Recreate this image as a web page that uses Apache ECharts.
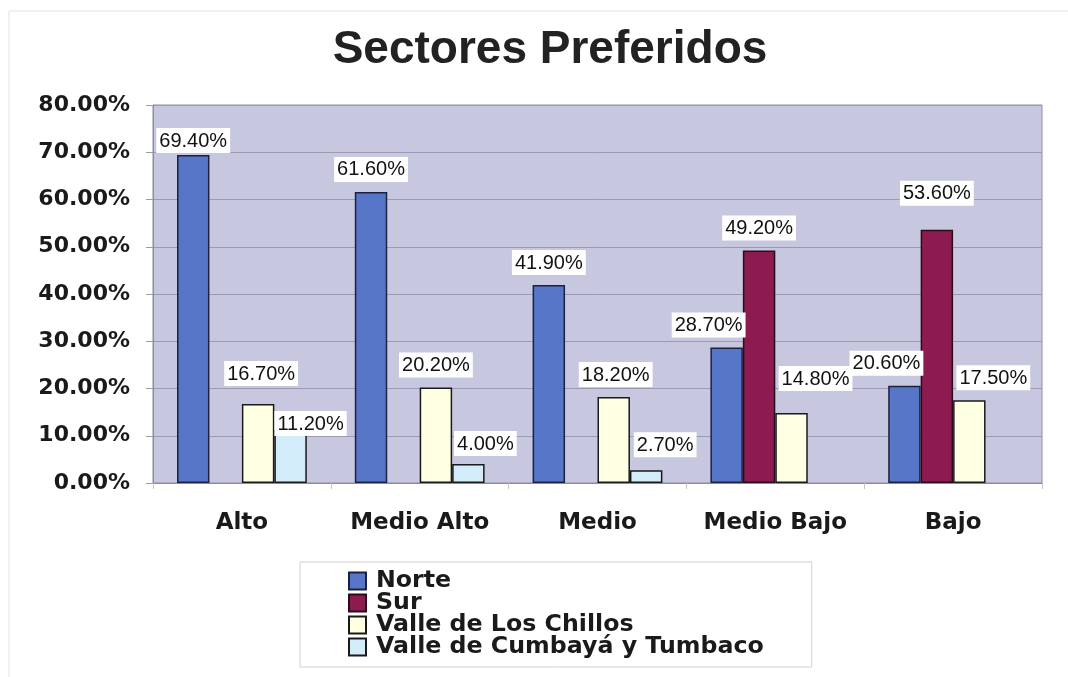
<!DOCTYPE html>
<html>
<head>
<meta charset="utf-8">
<script src="https://cdn.jsdelivr.net/npm/echarts@6/dist/echarts.min.js"></script>
<style>
  html, body { margin: 0; padding: 0; background: #ffffff; }
  #chart { width: 1068px; height: 677px; }
</style>
</head>
<body>
<div id="chart"></div>
<script>
// Preferred sectors by socioeconomic level (percent of respondents)
const categories = ['Alto', 'Medio Alto', 'Medio', 'Medio Bajo', 'Bajo'];
const seriesNames = ['Norte', 'Sur', 'Valle de Los Chillos', 'Valle de Cumbayá y Tumbaco'];
const norte = [69.4, 61.6, 41.9, 28.7, 20.6];
const sur = [null, null, null, 49.2, 53.6];
const chillos = [16.7, 20.2, 18.2, 14.8, 17.5];
const cumbaya = [11.2, 4.0, 2.7, null, null];
const yTicks = [0, 10, 20, 30, 40, 50, 60, 70, 80];

// Per-bar nudges of the value labels, [dx, dy] in pixels
const labelShift = [
  [[0, 8], [0, 0], [0, 0], [-18, 0], [-18, 0]],
  [null, null, null, [0, 0], [0, -14]],
  [[3, -8], [0, 0], [2, 0], [24, -12], [24, 0]],
  [[20, 16], [17, 2], [19, -3], null, null]
];

const fills = ['#5876c8', '#8c1c4f', '#ffffe3', '#d3ecfa'];
const edges = ['#1c2140', '#2a0d1a', '#1a1a1a', '#1a1a1a'];

const values = [norte, sur, chillos, cumbaya];

const series = values.map((vals, si) => ({
  name: seriesNames[si],
  type: 'bar',
  barGap: '0%',
  barCategoryGap: '27%',
  itemStyle: { color: fills[si], borderColor: edges[si], borderWidth: 1.5 },
  label: {
    show: true,
    position: 'top',
    distance: 10,
    formatter: p => p.value.toFixed(2) + '%',
    backgroundColor: '#ffffff',
    padding: [3, 3, 2, 3],
    fontFamily: '"Liberation Sans", Arial, sans-serif',
    fontSize: 20,
    color: '#111111'
  },
  data: vals.map((v, ci) => {
    const s = labelShift[si][ci];
    if (v == null) return null;
    return s ? { value: v, label: { offset: s } } : v;
  })
}));

const chart = echarts.init(document.getElementById('chart'), null, { renderer: 'canvas' });

chart.setOption({
  animation: false,
  backgroundColor: '#ffffff',
  title: {
    text: 'Sectores Preferidos',
    left: 545,
    top: 22,
    textAlign: 'center',
    textStyle: {
      fontFamily: '"Liberation Sans", Arial, sans-serif',
      fontWeight: 'bold',
      fontSize: 46,
      color: '#222222'
    }
  },
  graphic: [
    { type: 'line', shape: { x1: 9, y1: 11, x2: 1068, y2: 11 }, style: { stroke: '#e2e2e2', lineWidth: 1 } },
    { type: 'line', shape: { x1: 9, y1: 11, x2: 9, y2: 677 }, style: { stroke: '#e2e2e2', lineWidth: 1 } }
  ],
  legend: {
    orient: 'vertical',
    left: 300,
    top: 562,
    padding: [7, 48, 8, 48],
    backgroundColor: '#ffffff',
    borderColor: '#cfcfcf',
    borderWidth: 1,
    itemWidth: 17,
    itemHeight: 17,
    itemGap: -2,
    icon: 'rect',
    data: seriesNames,
    textStyle: {
      fontFamily: '"DejaVu Sans", sans-serif',
      fontWeight: 'bold',
      fontSize: 23.7,
      color: '#1a1a1a',
      padding: [0, 0, 0, 5]
    }
  },
  grid: {
    left: 153,
    right: 26,
    top: 105,
    bottom: 194,
    show: true,
    backgroundColor: '#c8c7e0',
    borderColor: '#8e8ea6',
    borderWidth: 1
  },
  xAxis: {
    type: 'category',
    data: categories,
    axisLine: { lineStyle: { color: '#8a8aa0', width: 1 } },
    axisTick: { show: true, length: 6, lineStyle: { color: '#c4c4c4' } },
    axisLabel: {
      interval: 0,
      margin: 29,
      fontFamily: '"DejaVu Sans", sans-serif',
      fontWeight: 'bold',
      fontSize: 23,
      color: '#1a1a1a'
    }
  },
  yAxis: {
    type: 'value',
    min: yTicks[0],
    max: yTicks[yTicks.length - 1],
    interval: yTicks[1] - yTicks[0],
    axisLine: { show: true, lineStyle: { color: '#8a8aa0' } },
    axisTick: { show: true, length: 7, lineStyle: { color: '#9a9aa8' } },
    splitLine: { show: true, lineStyle: { color: '#9a9ab2', width: 1 } },
    axisLabel: {
      margin: 23,
      formatter: v => v.toFixed(2) + '%',
      fontFamily: '"DejaVu Sans", sans-serif',
      fontWeight: 'bold',
      fontSize: 22,
      color: '#1a1a1a'
    }
  },
  series: series
});
</script>
</body>
</html>
